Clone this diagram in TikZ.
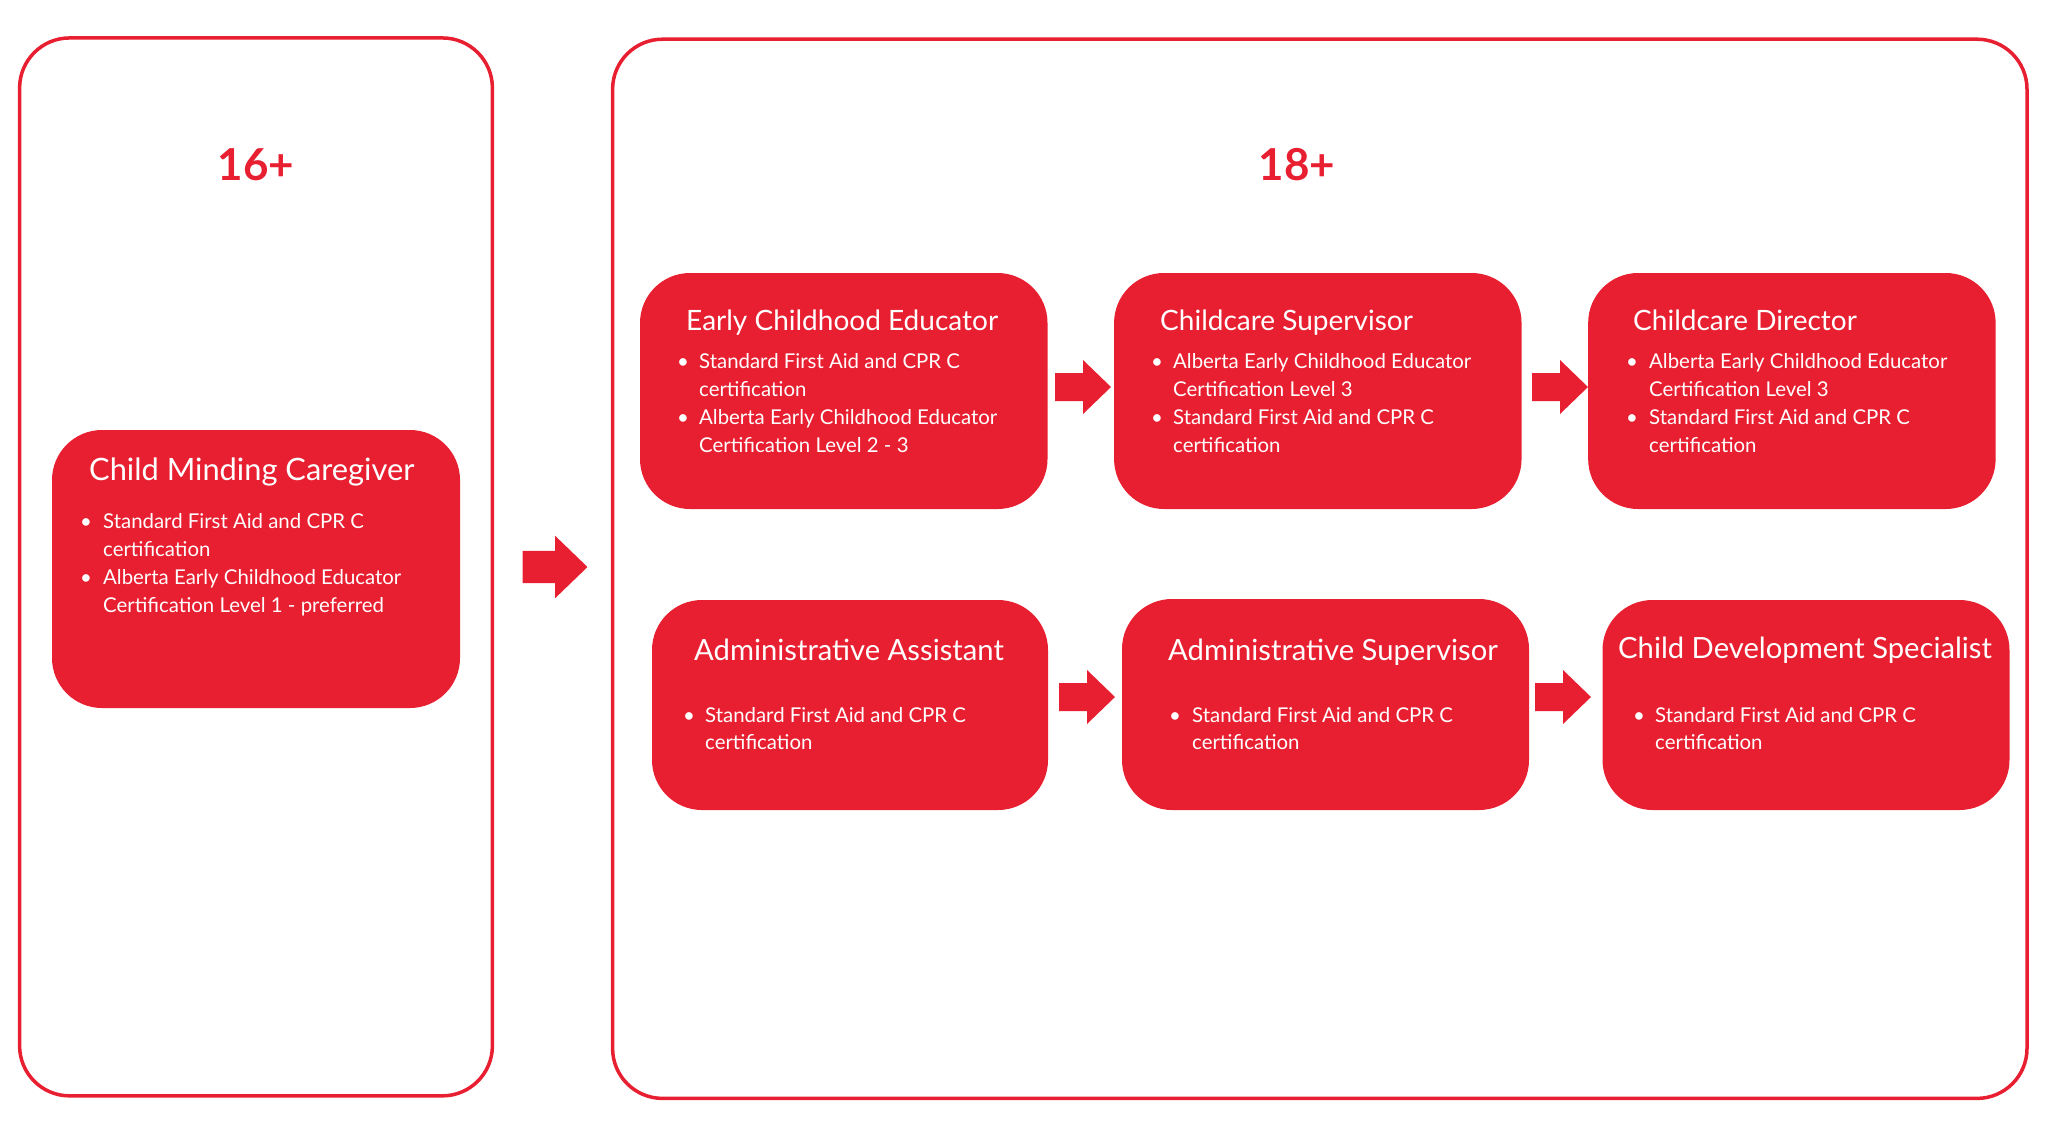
\documentclass[tikz,border=0pt]{standalone}
\usepackage{fontspec}
\setmainfont{Lato}
\usetikzlibrary{calc}
\definecolor{brand}{HTML}{E81F30}
\begin{document}
\begin{tikzpicture}[x=1pt,y=-1pt,
  outerframe/.style={draw=brand, line width=3.5pt, rounded corners=50pt, inner sep=0pt, outer sep=0pt},
  card/.style={fill=brand, rounded corners=50pt, inner sep=0pt, outer sep=0pt, draw=none},
  cardtitle/.style={anchor=base west, text=white, font=\fontsize{28}{34}\selectfont, inner sep=0pt},
  lowtitle/.style={cardtitle, font=\fontsize{29.2}{34}\selectfont},
  bigtitle/.style={cardtitle, font=\fontsize{30.8}{36}\selectfont},
  bodytext/.style={anchor=base west, text=white, font=\fontsize{20.4}{24}\selectfont, inner sep=0pt},
  bulletdot/.style={anchor=base, text=white, font=\fontsize{20.4}{24}\selectfont, inner sep=0pt},
  agelabel/.style={text=brand, font=\fontsize{44}{50}\selectfont\bfseries, inner sep=0pt},
  blockarrow/.pic={\fill[brand] (-28,-14) -- (0,-14) -- (0,-27) -- (28,0) -- (0,27) -- (0,14) -- (-28,14) -- cycle;}
]
\useasboundingbox (0,0) rectangle (2048,1137);

% frames
\node[outerframe, minimum width=472.8pt, minimum height=1057.9pt] (leftframe) at (256,566.9) {};
\node[outerframe, minimum width=1414.4pt, minimum height=1059.2pt] (rightframe) at (1319.8,568.8) {};

\node[agelabel] (age16) at (256,164.5) {16+};
\node[agelabel] (age18) at (1297,164.5) {18+};

% cards
\node[card, minimum width=408pt, minimum height=278pt] (cmc) at (256,569) {};
\node[card, minimum width=407.5pt, minimum height=236pt] (ece) at (843.75,391) {};
\node[card, minimum width=407.5pt, minimum height=236pt] (cs) at (1317.8,391) {};
\node[card, minimum width=407.5pt, minimum height=236pt] (cd) at (1791.9,391) {};
\node[card, minimum width=396pt, minimum height=210pt] (aa) at (850,705) {};
\node[card, minimum width=407pt, minimum height=211pt] (as) at (1325.5,704.5) {};
\node[card, minimum width=407pt, minimum height=210pt] (cds) at (1806,705) {};

% arrows
\pic[scale=1.16] at (555,567) {blockarrow};
\pic at (1083,387) {blockarrow};
\pic at (1560,387) {blockarrow};
\pic at (1087,697) {blockarrow};
\pic at (1563,697) {blockarrow};

% Child Minding Caregiver
\node[bigtitle] (cmct) at (89,480) {Child Minding Caregiver};
\node[bulletdot] (cmcd1) at (86,528) {•};
\node[bodytext] (cmcl1) at (103,528) {Standard First Aid and CPR C};
\node[bodytext] (cmcl2) at (103,556) {certification};
\node[bulletdot] (cmcd2) at (86,584) {•};
\node[bodytext] (cmcl3) at (103,584) {Alberta Early Childhood Educator};
\node[bodytext] (cmcl4) at (103,612) {Certification Level 1 - preferred};

% Early Childhood Educator
\node[cardtitle] (ecet) at (686,330) {Early Childhood Educator};
\node[bulletdot] (eced1) at (683,368) {•};
\node[bodytext] (ecel1) at (699,368) {Standard First Aid and CPR C};
\node[bodytext] (ecel2) at (699,396) {certification};
\node[bulletdot] (eced2) at (683,424) {•};
\node[bodytext] (ecel3) at (699,424) {Alberta Early Childhood Educator};
\node[bodytext] (ecel4) at (699,452) {Certification Level 2 - 3};

% Childcare Supervisor
\node[cardtitle] (cst) at (1160,330) {Childcare Supervisor};
\node[bulletdot] (csd1) at (1157,368) {•};
\node[bodytext] (csl1) at (1173,368) {Alberta Early Childhood Educator};
\node[bodytext] (csl2) at (1173,396) {Certification Level 3};
\node[bulletdot] (csd2) at (1157,424) {•};
\node[bodytext] (csl3) at (1173,424) {Standard First Aid and CPR C};
\node[bodytext] (csl4) at (1173,452) {certification};

% Childcare Director
\node[cardtitle] (cdt) at (1633,330) {Childcare Director};
\node[bulletdot] (cdd1) at (1632,368) {•};
\node[bodytext] (cdl1) at (1649,368) {Alberta Early Childhood Educator};
\node[bodytext] (cdl2) at (1649,396) {Certification Level 3};
\node[bulletdot] (cdd2) at (1632,424) {•};
\node[bodytext] (cdl3) at (1649,424) {Standard First Aid and CPR C};
\node[bodytext] (cdl4) at (1649,452) {certification};

% Administrative Assistant
\node[lowtitle] (aat) at (694,660) {Administrative Assistant};
\node[bulletdot] (aad1) at (689,722) {•};
\node[bodytext] (aal1) at (705,722) {Standard First Aid and CPR C};
\node[bodytext] (aal2) at (705,749) {certification};

% Administrative Supervisor
\node[lowtitle] (ast) at (1168,660) {Administrative Supervisor};
\node[bulletdot] (asd1) at (1175,722) {•};
\node[bodytext] (asl1) at (1192,722) {Standard First Aid and CPR C};
\node[bodytext] (asl2) at (1192,749) {certification};

% Child Development Specialist
\node[lowtitle] (cdst) at (1618,658) {Child Development Specialist};
\node[bulletdot] (cdsd1) at (1639,722) {•};
\node[bodytext] (cdsl1) at (1655,722) {Standard First Aid and CPR C};
\node[bodytext] (cdsl2) at (1655,749) {certification};
\end{tikzpicture}
\end{document}
